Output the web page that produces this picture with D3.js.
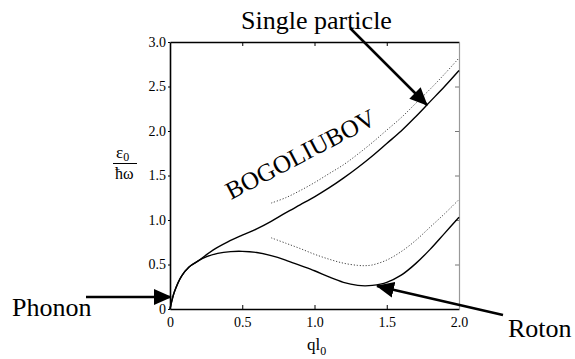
<!DOCTYPE html>
<html>
<head>
<meta charset="utf-8">
<script src="https://cdn.jsdelivr.net/npm/d3@7"></script>
<style>
  html, body { margin: 0; padding: 0; background: #fff; }
  svg { display: block; }
</style>
</head>
<body>
<script>
// ---- data ----
const xTicks = [0, 0.5, 1.0, 1.5, 2.0];
const xTickLabels = ["0", "0.5", "1.0", "1.5", "2.0"];
const yTicks = [0, 0.5, 1.0, 1.5, 2.0, 2.5, 3.0];
const yTickLabels = ["0", "0.5", "1.0", "1.5", "2.0", "2.5", "3.0"];

// Upper solid branch (Bogoliubov / single particle)
const upperSolidQ = [0, 0.03, 0.08, 0.13, 0.19, 0.3, 0.4, 0.5, 0.6, 0.7, 0.8, 0.9, 1.0, 1.1, 1.2, 1.3, 1.4, 1.5, 1.6, 1.7, 1.8, 1.9, 2.0];
const upperSolidE = [0, 0.19, 0.37, 0.47, 0.535, 0.665, 0.755, 0.83, 0.9, 0.985, 1.08, 1.17, 1.26, 1.36, 1.47, 1.59, 1.72, 1.86, 2.0, 2.16, 2.33, 2.50, 2.68];

// Lower solid branch (phonon-roton)
const lowerSolidQ = [0, 0.03, 0.08, 0.13, 0.19, 0.25, 0.33, 0.42, 0.5, 0.6, 0.7, 0.8, 0.9, 1.0, 1.1, 1.2, 1.3, 1.35, 1.4, 1.5, 1.6, 1.7, 1.8, 1.9, 2.0];
const lowerSolidE = [0, 0.19, 0.37, 0.47, 0.535, 0.585, 0.625, 0.645, 0.648, 0.635, 0.6, 0.55, 0.49, 0.43, 0.36, 0.30, 0.265, 0.26, 0.265, 0.30, 0.38, 0.51, 0.67, 0.85, 1.03];

// Upper dotted
const upperDotQ = [0.7, 0.8, 0.9, 1.0, 1.1, 1.2, 1.3, 1.4, 1.5, 1.6, 1.7, 1.8, 1.9, 2.0];
const upperDotE = [1.19, 1.25, 1.33, 1.42, 1.52, 1.62, 1.74, 1.87, 2.01, 2.15, 2.31, 2.47, 2.64, 2.82];

// Lower dotted
const lowerDotQ = [0.7, 0.8, 0.9, 1.0, 1.1, 1.2, 1.3, 1.35, 1.4, 1.5, 1.6, 1.7, 1.8, 1.9, 2.0];
const lowerDotE = [0.8, 0.74, 0.68, 0.615, 0.56, 0.515, 0.49, 0.487, 0.495, 0.55, 0.645, 0.77, 0.92, 1.07, 1.23];

// ---- chart ----
const SERIF = "'Liberation Serif', 'Times New Roman', serif";
const W = 575, H = 359;
const svg = d3.select("body").append("svg").attr("width", W).attr("height", H);

const x = d3.scaleLinear().domain([0, 2]).range([170, 459]);
const y = d3.scaleLinear().domain([0, 3]).range([309, 42]);

const defs = svg.append("defs");
defs.append("marker")
  .attr("id", "ah")
  .attr("viewBox", "0 0 18 16")
  .attr("refX", 17).attr("refY", 8)
  .attr("markerUnits", "userSpaceOnUse")
  .attr("markerWidth", 18).attr("markerHeight", 16)
  .attr("orient", "auto")
  .append("path").attr("d", "M0,0 L18,8 L0,16 Z").attr("fill", "#000");

// Axes
const fmtX = (d, i) => xTickLabels[i];
const fmtY = (d, i) => yTickLabels[i];

const gBottom = svg.append("g").attr("transform", `translate(0,${y(0)})`)
  .call(d3.axisBottom(x).tickValues(xTicks).tickFormat(fmtX).tickSizeInner(-4).tickSizeOuter(0).tickPadding(8));
const gLeft = svg.append("g").attr("transform", `translate(${x(0)},0)`)
  .call(d3.axisLeft(y).tickValues(yTicks).tickFormat(fmtY).tickSizeInner(2).tickSizeOuter(0).tickPadding(2));
const gTop = svg.append("g").attr("transform", `translate(0,${y(3)})`)
  .call(d3.axisTop(x).tickValues(xTicks.slice(1, -1)).tickFormat("").tickSizeInner(-4).tickSizeOuter(0));
const gRight = svg.append("g").attr("transform", `translate(${x(2)},0)`)
  .call(d3.axisRight(y).tickValues(yTicks.slice(1, -1)).tickFormat("").tickSizeInner(-4).tickSizeOuter(0));

[gBottom, gLeft, gTop].forEach(g => {
  g.attr("font-family", SERIF).attr("font-size", 14);
  g.select(".domain").attr("stroke", "#000").attr("stroke-width", 1.6);
  g.selectAll(".tick line").attr("stroke", "#000").attr("stroke-width", 1);
  g.selectAll("text").style("font-family", SERIF).style("font-size", "14px").attr("fill", "#000");
});
gRight.select(".domain").attr("stroke", "#999").attr("stroke-width", 1.2);
gRight.selectAll(".tick line").attr("stroke", "#777").attr("stroke-width", 1);

// Curves
const line = d3.line().x(d => x(d[0])).y(d => y(d[1])).curve(d3.curveCatmullRom.alpha(0.5));
const zip = (a, b) => a.map((v, i) => [v, b[i]]);

svg.append("path").datum(zip(upperDotQ, upperDotE)).attr("d", line)
  .attr("fill", "none").attr("stroke", "#444").attr("stroke-width", 1).attr("stroke-dasharray", "1.2,1.8");
svg.append("path").datum(zip(lowerDotQ, lowerDotE)).attr("d", line)
  .attr("fill", "none").attr("stroke", "#444").attr("stroke-width", 1).attr("stroke-dasharray", "1.2,1.8");
svg.append("path").datum(zip(upperSolidQ, upperSolidE)).attr("d", line)
  .attr("fill", "none").attr("stroke", "#000").attr("stroke-width", 1.4);
svg.append("path").datum(zip(lowerSolidQ, lowerSolidE)).attr("d", line)
  .attr("fill", "none").attr("stroke", "#000").attr("stroke-width", 1.4);

// text helper
const txt = (sel, size) => sel.style("font-family", SERIF).style("font-size", size + "px").attr("fill", "#000");

// Axis titles
const yl = svg.append("g");
const eps = txt(yl.append("text").attr("x", 116).attr("y", 158), 17).text("ε");
txt(eps.append("tspan").attr("dy", 3), 12).text("0");
yl.append("line").attr("x1", 113).attr("x2", 137).attr("y1", 163.5).attr("y2", 163.5)
  .attr("stroke", "#000").attr("stroke-width", 1);
txt(yl.append("text").attr("x", 115).attr("y", 179), 16).text("ħω");

const ql = txt(svg.append("text").attr("x", 307).attr("y", 350), 17).text("ql");
txt(ql.append("tspan").attr("dy", 5), 12).text("0");

// Annotations
txt(svg.append("text").attr("x", 241).attr("y", 29), 26).text("Single particle");
txt(svg.append("text").attr("x", 12).attr("y", 316), 26).text("Phonon");
txt(svg.append("text").attr("x", 508).attr("y", 337), 26).text("Roton");
txt(svg.append("text").attr("transform", "translate(231,200) rotate(-27.6)"), 25).text("BOGOLIUBOV");

const arrow = (x1, y1, x2, y2) => svg.append("line")
  .attr("x1", x1).attr("y1", y1).attr("x2", x2).attr("y2", y2)
  .attr("stroke", "#000").attr("stroke-width", 2.5).attr("marker-end", "url(#ah)");
arrow(86, 297, 171, 297);
arrow(350, 28, 427, 105);
arrow(503, 315, 377, 286);
</script>
</body>
</html>
